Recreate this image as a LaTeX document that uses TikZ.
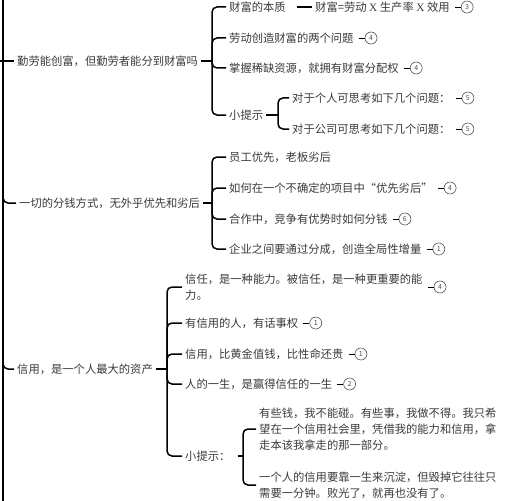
\documentclass[tikz,border=0pt]{standalone}
\usepackage{fontspec}
\setmainfont{Noto Sans CJK SC}
\newfontfamily\latfont{Liberation Serif}
\usetikzlibrary{positioning}
\definecolor{inkgray}{HTML}{3A3A3A}
\definecolor{ringgray}{HTML}{505050}

\begin{document}
\begin{tikzpicture}[x=1pt,y=-1pt,
		topic/.style={anchor=west,inner sep=1pt,text=inkgray,align=left,font=\fontsize{11.3}{16}\selectfont},
		link/.style={line width=1.5pt,rounded corners=5pt},
		childlink/.style={link,shorten >=2pt},
		badge/.style={circle,draw=ringgray,line width=0.6pt,minimum size=12pt,inner sep=0pt,text=ringgray,font=\fontsize{7}{7}\selectfont},
		tagline/.style={line width=0.8pt,shorten <=4pt}]
			\useasboundingbox (0,0) rectangle (521,500);
			\coordinate (trunktop) at (3,-5);
			\coordinate (trunkbot) at (3,505);
			\draw[line width=2pt] (trunktop) -- (trunkbot);

			\node[topic] (p1) at (16,61) {勤劳能创富，但勤劳者能分到财富吗};
			\node[topic] (p2) at (18,203) {一切的分钱方式，无外乎优先和劣后};
			\node[topic] (p3) at (16,369) {信用，是一个人最大的资产};
			\coordinate (r1) at (-5,61);
			\coordinate (r2) at (3,190);
			\coordinate (r3) at (3,356);
			\draw[childlink] (r1) -- (p1.west);
			\draw[childlink] (r2) |- (p2.west);
			\draw[childlink] (r3) |- (p3.west);

			\node[topic] (c11) at (228,7) {财富的本质};
			\node[topic] (c11a) at (314,7) {财富=劳动 {\latfont X} 生产率 {\latfont X} 效用};
			\node[topic] (c12) at (228,38) {劳动创造财富的两个问题};
			\node[topic] (c13) at (228,68) {掌握稀缺资源，就拥有财富分配权};
			\node[topic] (c14) at (228,115) {小提示};
			\node[topic] (c141) at (291,98) {对于个人可思考如下几个问题：};
			\node[topic] (c142) at (291,129) {对于公司可思考如下几个问题：};
			\coordinate (j1) at (212,61);
			\coordinate (j14) at (278,115);
			\draw[link,shorten <=2pt] (p1.east) -- (j1);
			\foreach \c in {c11,c12,c13,c14}
				\draw[childlink] (j1) |- (\c.west);
			\draw[link,shorten <=10pt,shorten >=2pt] (c11.east) -- (c11a.west);
			\draw[link,shorten <=2pt] (c14.east) -- (j14);
			\foreach \c in {c141,c142}
				\draw[childlink] (j14) |- (\c.west);

			\node[topic] (c21) at (228,157) {员工优先，老板劣后};
			\node[topic] (c22) at (228,188) {如何在一个不确定的项目中“优先劣后”};
			\node[topic] (c23) at (228,219) {合作中，竞争有优势时如何分钱};
			\node[topic] (c24) at (228,249) {企业之间要通过分成，创造全局性增量};
			\coordinate (j2) at (212,203);
			\draw[link,shorten <=2pt] (p2.east) -- (j2);
			\foreach \c in {c21,c22,c23,c24}
				\draw[childlink] (j2) |- (\c.west);

			\node[topic] (c31) at (184,287) {信任，是一种能力。被信任，是一种更重要的能\\力。};
			\node[topic] (c32) at (184,323) {有信用的人，有话事权};
			\node[topic] (c33) at (184,354) {信用，比黄金值钱，比性命还贵};
			\node[topic] (c34) at (184,384) {人的一生，是赢得信任的一生};
			\node[topic] (c35) at (184,456) {小提示：};
			\node[topic] (c351) at (258,429) {有些钱，我不能碰。有些事，我做不得。我只希\\望在一个信用社会里，凭借我的能力和信用，拿\\走本该我拿走的那一部分。};
			\node[topic] (c352) at (258,485) {一个人的信用要靠一生来沉淀，但毁掉它往往只\\需要一分钟。败光了，就再也没有了。};
			\coordinate (j3) at (167,369);
			\coordinate (j35) at (243,456);
			\draw[link,shorten <=2pt] (p3.east) -- (j3);
			\foreach \c in {c31,c32,c33,c34,c35}
				\draw[childlink] (j3) |- (\c.west);
			\draw[link,shorten <=6pt] (c35.east) -- (j35);
			\foreach \c in {c351,c352}
				\draw[childlink] (j35) |- (\c.west);

			\foreach \c/\n in {c11a/3,c12/4,c13/4,c141/5,c142/5,c22/4,c23/6,c24/1,c31/4,c32/1,c33/1,c34/2}{
				\node[badge,right=10pt of \c] (b\c) {\n};
				\draw[tagline] (\c.east) -- (b\c.west);
			}
		\end{tikzpicture}
\end{document}
